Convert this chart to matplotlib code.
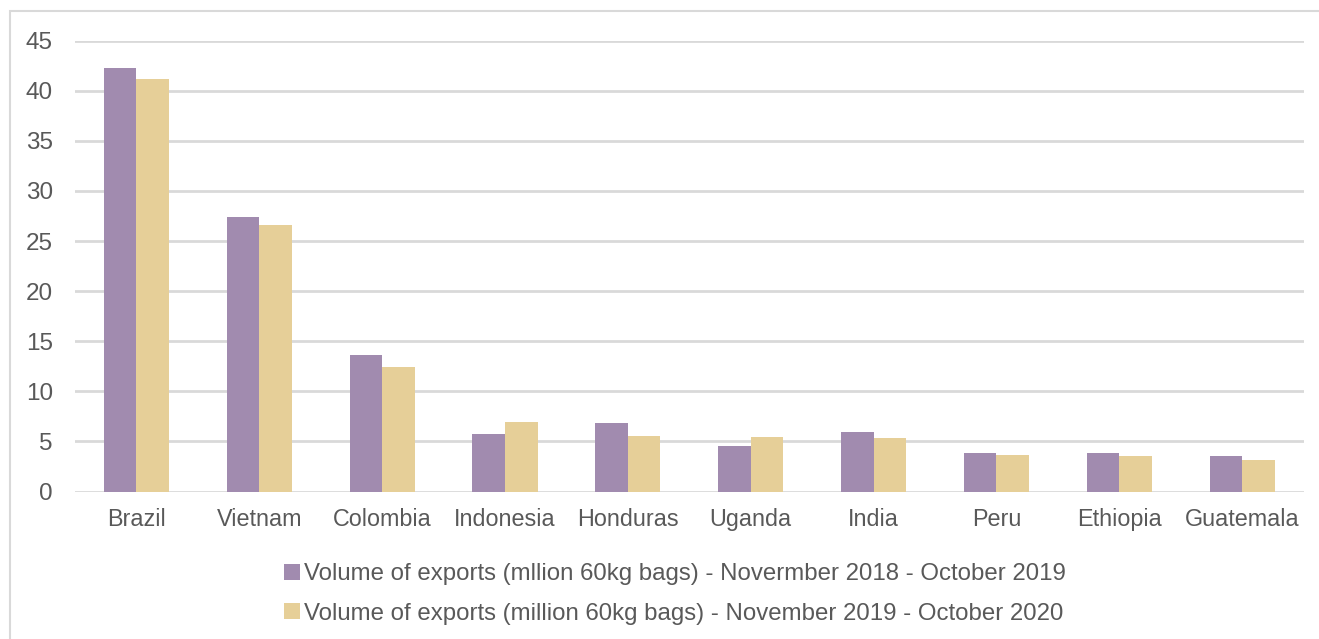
import matplotlib
matplotlib.use("Agg")
import matplotlib.pyplot as plt
import numpy as np
from matplotlib.patches import Patch, Rectangle

categories = ["Brazil", "Vietnam", "Colombia", "Indonesia", "Honduras",
              "Uganda", "India", "Peru", "Ethiopia", "Guatemala"]
exports_2018_19 = [42.3, 27.4, 13.6, 5.7, 6.8, 4.5, 5.9, 3.8, 3.8, 3.5]
exports_2019_20 = [41.2, 26.6, 12.4, 6.9, 5.5, 5.4, 5.3, 3.6, 3.5, 3.1]
series_labels = [
    "Volume of exports (mllion 60kg bags) - Novermber 2018 - October 2019",
    "Volume of exports (million 60kg bags) - November 2019 - October 2020",
]
yticks = [0, 5, 10, 15, 20, 25, 30, 35, 40, 45]

purple = "#A18BAF"
beige = "#E6CF98"
grid_c = "#D9D9D9"
text_c = "#595959"

plt.rcParams['font.family'] = ['Liberation Sans', 'DejaVu Sans']

W, H = 1319, 639
fig = plt.figure(figsize=(W / 100, H / 100), dpi=100)
ax = fig.add_axes([75 / W, 1 - 491.5 / H, (1303.5 - 75) / W, (491.5 - 40.7) / H])

x = np.arange(len(categories))
bw = 0.265
ax.bar(x - bw / 2, exports_2018_19, bw, color=purple, zorder=3)
ax.bar(x + bw / 2, exports_2019_20, bw, color=beige, zorder=3)

ax.set_xlim(-0.5, len(categories) - 0.5)
ax.set_ylim(0, 45)
ax.set_yticks(yticks)
ax.set_yticklabels([str(v) for v in yticks])
ax.set_xticks(x)
ax.set_xticklabels(categories)
ax.tick_params(axis='both', length=0, colors=text_c)
ax.tick_params(axis='y', pad=16, labelsize=17.5)
ax.tick_params(axis='x', pad=12, labelsize=16.8)
for s in ax.spines.values():
    s.set_visible(False)
ax.yaxis.grid(True, color=grid_c, linewidth=2, zorder=0)
ax.set_axisbelow(True)

# outer chart border
fig.patches.append(Rectangle((10 / W, -0.1), 1.2, 1 - 11 / H + 0.1,
                             transform=fig.transFigure, fill=False,
                             edgecolor=grid_c, linewidth=1.5))

handles = [Patch(facecolor=purple, edgecolor='none'),
           Patch(facecolor=beige, edgecolor='none')]
leg = fig.legend(handles, series_labels, loc='center',
                 bbox_to_anchor=(675 / W, 1 - 594 / H), ncol=1, frameon=False,
                 fontsize=17.3, labelcolor=text_c, handlelength=0.65,
                 handleheight=0.65, handletextpad=0.15, labelspacing=0.72)

fig.savefig("out.png", dpi=100)
